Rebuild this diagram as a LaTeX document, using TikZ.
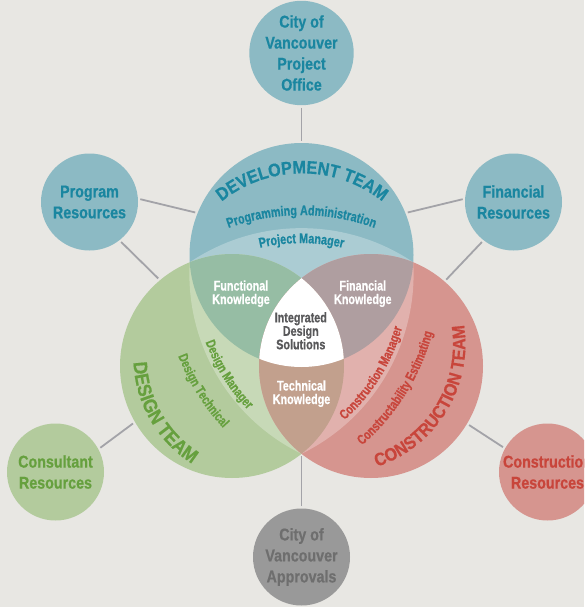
\documentclass[tikz,border=0pt]{standalone}
\usepackage{fontspec}
\setmainfont{Liberation Sans}
\newfontfamily\satfont{Liberation Sans}[FakeStretch=0.84,FakeBold=0.6]
\newfontfamily\smallfont{Liberation Sans}[FakeStretch=0.77,FakeBold=0.6]
\newfontfamily\titlefont{Liberation Sans}[FakeStretch=0.90,FakeBold=0.6]
\usetikzlibrary{decorations.text}

\definecolor{bgc}{HTML}{E8E7E3}
\definecolor{devc}{HTML}{8CBAC4}
\definecolor{devtxt}{HTML}{1A86A0}
\definecolor{desc}{HTML}{B3CB9D}
\definecolor{destxt}{HTML}{66A03E}
\definecolor{conc}{HTML}{D6958F}
\definecolor{contxt}{HTML}{C8453B}
\definecolor{funcc}{HTML}{96BDA4}
\definecolor{finc}{HTML}{AF9EA0}
\definecolor{techc}{HTML}{C2A08D}
\definecolor{apprc}{HTML}{999999}
\definecolor{apprtxt}{HTML}{6E6E6E}
\definecolor{linkc}{HTML}{A3A3A8}
\definecolor{coretxt}{HTML}{58585A}

\begin{document}
\begin{tikzpicture}[x=1pt,y=-1pt,
  team/.style={circle,inner sep=0pt,outer sep=0pt,minimum size=224pt},
  sat/.style={circle,inner sep=0pt,outer sep=0pt,minimum size=97pt,align=center,
    font=\satfont\bfseries\fontsize{17}{21}\selectfont},
  link/.style={draw=linkc,line width=1.8pt,shorten <=2.5pt,shorten >=2.5pt},
  know/.style={align=center,anchor=base,inner sep=0pt,
    font=\smallfont\bfseries\fontsize{14}{13.5}\selectfont},
  curved/.style n args={2}{decorate,decoration={text along path,text align=center,
    text color=#1,text={#2}}},
]
\clip (0,0) rectangle (584,607);
\fill[bgc] (0,0) rectangle (584,607);

% the three teams
\node[team,fill=devc] (dev) at (301.5,255) {};
\node[team,fill=desc] (des) at (232,366) {};
\node[team,fill=conc] (con) at (371,366) {};

% outer meeting points of the team circles
\coordinate (p1) at (189.74,262.28);
\coordinate (p2) at (413.26,262.28);
\coordinate (p3) at (301.5,453.83);

% lighter manager band
\fill[white,opacity=0.27] (p1)
  arc[start angle=-123.97,end angle=-56.03,radius=200]
  arc[start angle=-3.41,end angle=63.93,radius=200]
  arc[start angle=116.07,end angle=183.41,radius=200] -- cycle;

% pairwise overlaps
\begin{scope}
  \clip (dev.center) circle[radius=112];
  \fill[funcc] (des.center) circle[radius=112];
  \fill[finc] (con.center) circle[radius=112];
\end{scope}
\begin{scope}
  \clip (des.center) circle[radius=112];
  \fill[techc] (con.center) circle[radius=112];
\end{scope}
% common core
\begin{scope}
  \clip (dev.center) circle[radius=112];
  \clip (des.center) circle[radius=112];
  \fill[white] (con.center) circle[radius=112];
\end{scope}

% satellites
\node[sat,fill=devc,text=devtxt] (office) at (301.5,53) {City of\\Vancouver\\Project\\Office};
\node[sat,fill=devc,text=devtxt] (prog) at (89.5,202) {Program\\Resources};
\node[sat,fill=devc,text=devtxt] (fin) at (513.5,202) {Financial\\Resources};
\node[sat,fill=desc,text=destxt] (cons) at (55.5,472) {Consultant\\Resources};
\node[sat,fill=conc,text=contxt] (constr) at (547.5,472) {Construction\\Resources};
\node[sat,fill=apprc,text=apprtxt] (appr) at (301.5,557) {City of\\Vancouver\\Approvals};

% connectors
\draw[link] (office.south) -- (dev.north);
\draw[link] (prog.4) -- (dev.158);
\draw[link] (fin.176) -- (dev.22);
\draw[link] (prog.-52.5) -- (des.130.6);
\draw[link] (fin.232.5) -- (con.49.4);
\draw[link] (cons.28.4) -- (des.210.9);
\draw[link] (constr.151.6) -- (con.329.1);
\draw[link] (appr.north) -- (p3);

% knowledge areas (anchored at the last line's baseline)
\node[know,text=white] (functional) at (241,304) {Functional\\Knowledge};
\node[know,text=white] (financial) at (362.8,304) {Financial\\Knowledge};
\node[know,text=coretxt] (core) at (300.8,349.3) {Integrated\\Design\\Solutions};
\node[know,text=white] (technical) at (301.5,404) {Technical\\Knowledge};

% development team texts
\path[curved={devtxt}{|\titlefont\bfseries\fontsize{18}{18}\selectfont|DEVELOPMENT TEAM}]
  (302,302) ++(-180:128.6) arc[start angle=-180,end angle=0,radius=128.6];
\path[curved={devtxt}{|\smallfont\bfseries\fontsize{14}{14}\selectfont|Programming Administration}]
  (301.5,428.14) ++(-180:213) arc[start angle=-180,end angle=0,radius=213];
\path[curved={devtxt}{|\smallfont\bfseries\fontsize{14}{14}\selectfont|Project Manager}]
  (301.5,428.14) ++(-180:185) arc[start angle=-180,end angle=0,radius=185];

% design team texts
\path[curved={destxt}{|\titlefont\bfseries\fontsize{19.5}{19.5}\selectfont|DESIGN TEAM}]
  (259,357.5) ++(240:125.5) arc[start angle=240,end angle=60,radius=125.5];
\path[curved={destxt}{|\smallfont\bfseries\fontsize{13.5}{14}\selectfont|Design Technical}]
  (389.39,274.18) ++(238:226.5) arc[start angle=238,end angle=58,radius=226.5];
\path[curved={destxt}{|\smallfont\bfseries\fontsize{13.5}{14}\selectfont|Design Manager}]
  (389.39,274.18) ++(238:196) arc[start angle=238,end angle=58,radius=196];

% construction team texts
\path[curved={contxt}{|\titlefont\bfseries\fontsize{18}{18}\selectfont|CONSTRUCTION TEAM}]
  (336.6,344.4) ++(131.5:128.8) arc[start angle=131.5,end angle=-68.5,radius=128.8];
\path[curved={contxt}{|\smallfont\bfseries\fontsize{13.5}{14}\selectfont|Constructability Estimating}]
  (213.61,274.18) ++(122:226.5) arc[start angle=122,end angle=-58,radius=226.5];
\path[curved={contxt}{|\smallfont\bfseries\fontsize{13.5}{14}\selectfont|Construction Manager}]
  (213.61,274.18) ++(122:196) arc[start angle=122,end angle=-58,radius=196];
\end{tikzpicture}
\end{document}
